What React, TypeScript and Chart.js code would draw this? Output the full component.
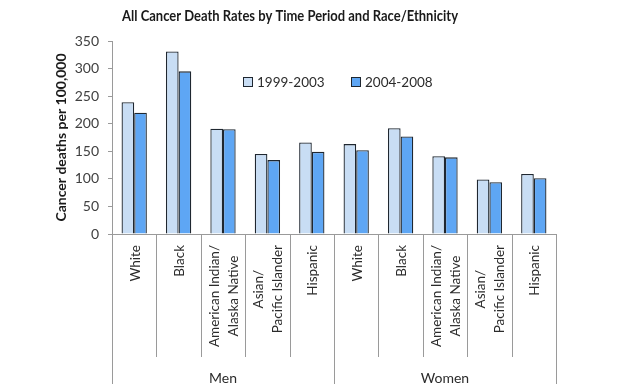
import React, { useEffect, useRef } from 'react';
import { Chart, registerables } from 'chart.js';

Chart.register(...registerables);

// ---- data ----
const categoryLabels: string[][] = [
  ['White'],
  ['Black'],
  ['American Indian/', 'Alaska Native'],
  ['Asian/', 'Pacific Islander'],
  ['Hispanic'],
  ['White'],
  ['Black'],
  ['American Indian/', 'Alaska Native'],
  ['Asian/', 'Pacific Islander'],
  ['Hispanic'],
];
const groupLabels = ['Men', 'Women'];
const groupSize = 5;
const series1Label = '1999-2003';
const series1Values = [239, 331, 191, 145, 166, 163, 192, 141, 99, 109];
const series2Label = '2004-2008';
const series2Values = [220, 295, 190, 134, 149, 152, 177, 139, 94, 101];
const yMin = 0;
const yMax = 350;
const yStep = 50;
const chartTitle = 'All Cancer Death Rates by Time Period and Race/Ethnicity';
const yAxisTitle = 'Cancer deaths per 100,000';

const FONT = 'Lato, "Noto Sans", sans-serif';
const LIGHT = '#c8ddf4';
const DARK = '#5ea6f4';
const BORDER = '#1f2730';
const GRID = '#9a9a9a';

const decorPlugin = {
  id: 'decor',
  afterDraw(chart: any) {
    const ctx: CanvasRenderingContext2D = chart.ctx;
    const area = chart.chartArea;
    const x = chart.scales.x;
    const n = categoryLabels.length;
    const centers = categoryLabels.map((_, i) => x.getPixelForValue(i));
    const bounds: number[] = [];
    bounds.push(area.left);
    for (let i = 1; i < n; i++) bounds.push((centers[i - 1] + centers[i]) / 2);
    bounds.push(area.right);

    ctx.save();
    // separators
    ctx.strokeStyle = GRID;
    ctx.lineWidth = 1;
    bounds.forEach((b, i) => {
      const full = i % groupSize === 0;
      const px = Math.round(b) + 0.5;
      ctx.beginPath();
      ctx.moveTo(px, area.bottom);
      ctx.lineTo(px, full ? chart.height : area.bottom + 123);
      ctx.stroke();
    });

    // category labels (rotated, block aligned to axis, lines centered)
    ctx.fillStyle = '#2b2b2b';
    ctx.font = '13.5px ' + FONT;
    const lineGap = 19;
    categoryLabels.forEach((lines, i) => {
      const widths = lines.map((l) => ctx.measureText(l).width);
      const L = Math.max(...widths);
      const yTop = area.bottom + 11;
      ctx.save();
      ctx.translate(centers[i] + 1, yTop);
      ctx.rotate(-Math.PI / 2);
      ctx.textAlign = 'center';
      ctx.textBaseline = 'middle';
      lines.forEach((l, j) => {
        const v = (j - (lines.length - 1) / 2) * lineGap;
        ctx.fillText(l, -L / 2, v);
      });
      ctx.restore();
    });

    // group labels
    ctx.font = '14px ' + FONT;
    ctx.textAlign = 'center';
    ctx.textBaseline = 'middle';
    groupLabels.forEach((g, gi) => {
      const l = bounds[gi * groupSize];
      const r = bounds[(gi + 1) * groupSize];
      ctx.fillText(g, (l + r) / 2, 378);
    });

    // legend
    ctx.font = '13.5px ' + FONT;
    const legendItems = chart.data.datasets.map((d: any) => ({ label: d.label, color: d.backgroundColor }));
    const legendX = [243, 351];
    const legendY = 82;
    legendItems.forEach((it: any, k: number) => {
      const bx = legendX[k];
      ctx.fillStyle = it.color;
      ctx.fillRect(bx, legendY - 5, 9, 10);
      ctx.strokeStyle = BORDER;
      ctx.lineWidth = 1;
      ctx.strokeRect(bx + 0.5, legendY - 4.5, 9, 9);
      ctx.fillStyle = '#2b2b2b';
      ctx.textAlign = 'left';
      ctx.fillText(it.label, bx + 14, legendY + 1);
    });

    // title (fit to the reference's width)
    ctx.fillStyle = '#1a1a1a';
    ctx.font = 'bold 15px ' + FONT;
    ctx.textAlign = 'center';
    ctx.textBaseline = 'middle';
    const tw = ctx.measureText(chartTitle).width;
    const sx = Math.min(1, 336 / tw);
    ctx.save();
    ctx.translate(290, 16);
    ctx.scale(sx, 1);
    ctx.fillText(chartTitle, 0, 0);
    ctx.restore();
    ctx.restore();
  },
};

export default function App() {
  const ref = useRef<HTMLCanvasElement | null>(null);
  useEffect(() => {
    if (!ref.current) return;
    const chart = new Chart(ref.current, {
      type: 'bar',
      data: {
        labels: categoryLabels.map((c) => c.join(' ')),
        datasets: [
          {
            label: series1Label,
            data: series1Values,
            backgroundColor: LIGHT,
            borderColor: BORDER,
            borderWidth: 1.3,
            categoryPercentage: 0.57,
            barPercentage: 1.0,
          },
          {
            label: series2Label,
            data: series2Values,
            backgroundColor: DARK,
            borderColor: BORDER,
            borderWidth: 1.3,
            categoryPercentage: 0.57,
            barPercentage: 1.0,
          },
        ],
      },
      options: {
        responsive: false,
        animation: false,
        layout: { padding: { top: 41, left: 50, right: 64, bottom: 0 } },
        plugins: {
          legend: { display: false },
          title: { display: false },
          tooltip: { enabled: false },
        },
        scales: {
          x: {
            ticks: { display: false },
            grid: { display: false },
            border: { display: true, color: GRID, width: 1 },
            afterFit: (s: any) => {
              s.height = 150;
            },
          },
          y: {
            min: yMin,
            max: yMax,
            ticks: {
              stepSize: yStep,
              padding: 9,
              color: '#404040',
              font: { family: FONT, size: 14 },
            },
            grid: { drawOnChartArea: false, drawTicks: true, tickLength: 4, color: GRID },
            border: { display: true, color: GRID, width: 1 },
            title: {
              display: true,
              text: yAxisTitle,
              color: '#1a1a1a',
              font: { family: FONT, size: 14, weight: 'bold' },
              padding: { top: 3, bottom: 0 },
            },
            afterFit: (s: any) => {
              s.width = 62;
            },
          },
        },
      },
      plugins: [decorPlugin],
    });
    return () => chart.destroy();
  }, []);
  return (
    <div style={{ position: 'absolute', left: 0, top: 0, width: 620, height: 384, background: '#fff' }}>
      <canvas ref={ref} width={620} height={384} style={{ display: 'block' }} />
    </div>
  );
}
